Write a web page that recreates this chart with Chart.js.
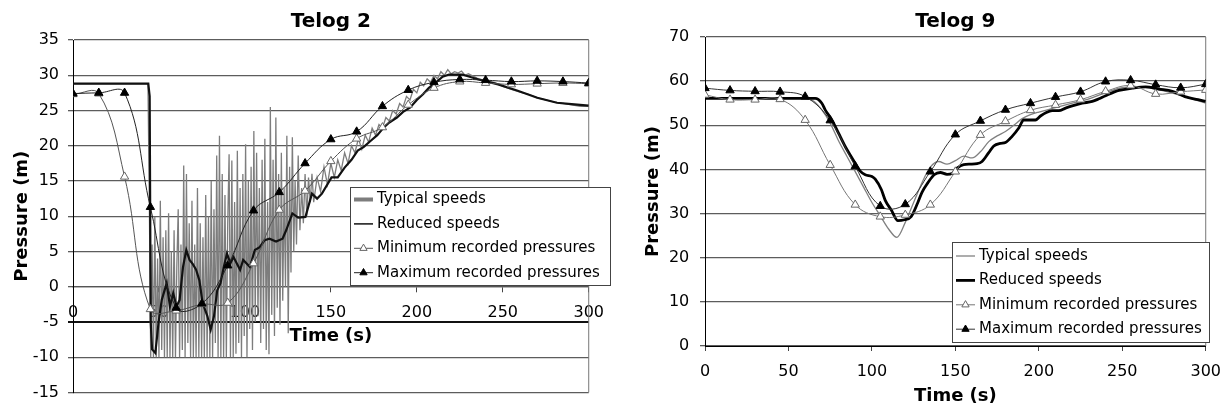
<!DOCTYPE html>
<html>
<head>
<meta charset="utf-8">
<script src="https://cdn.jsdelivr.net/npm/chart.js@4.4.0/dist/chart.umd.min.js"></script>
<style>
  html, body { margin: 0; padding: 0; background: #fff; }
  #wrap { position: relative; width: 1232px; height: 411px; }
  .box { position: absolute; top: 0; width: 616px; height: 411px; }
</style>
</head>
<body>
<div id="wrap">
  <div class="box" style="left:0"><canvas id="telog2"></canvas></div>
  <div class="box" style="left:616px"><canvas id="telog9"></canvas></div>
</div>
<script>
Chart.defaults.font.family = "DejaVu Sans";
Chart.defaults.color = "#000";

/* --------------- Recorded pressures (markers every 15 s) --------------------- */
const markerTimes = [0, 15, 30, 45, 60, 75, 90, 105, 120, 135, 150, 165, 180, 195, 210, 225, 240, 255, 270, 285, 300];

/* --------------- Telog 2 --------------------- */
const t2Min = [27.3, 27.4, 15.6, -3.2, -3.4, -2.5, -2.3, 3.3, 10.9, 13.6, 17.8, 21.0, 22.6, 25.8, 28.2, 29.1, 28.9, 28.7, 28.8, 28.9, 28.8];
const t2Max = [27.4, 27.5, 27.5, 11.3, -3.0, -2.4, 3.0, 10.8, 13.4, 17.5, 20.9, 22.0, 25.6, 27.9, 29.0, 29.4, 29.3, 29.1, 29.2, 29.1, 28.9];

const t2ReducedTimes = [
  0, 43.8, 44.6, 45.2, 46, 47.9, 49.7, 51.6, 54.5, 56.4,
  58.3, 60.2, 62, 64, 65.9, 67.8, 69.7, 71.6, 73.5, 75.4,
  78.2, 80.1, 82, 83.9, 85.8, 87.7, 89.6, 91.5, 93.4, 95.3,
  97.2, 99, 102.9, 105.8, 108.6, 111.5, 114.3, 118.1, 121.9, 124,
  127.6, 131, 135.2, 139, 142, 144.8, 150.4, 154, 158, 162,
  165.6, 169, 173.2, 177, 180.8, 184, 188.4, 192, 196, 200,
  203.6, 207, 211.2, 215, 218.8, 226.4, 235.9, 247.3, 258.7, 270.1,
  281.5, 290, 300];
const t2Reduced = [
  28.8, 28.8, 27, -5, -8.9, -9.4, -5.2, -1.9, 0.5, -2.8,
  -0.9, -2.8, -1.9, 2.8, 5.2, 3.8, 3.2, 2.4, 0.9, -2.3,
  -4.2, -6.1, -4.2, -0.5, 0.5, 2.8, 4.7, 3.3, 4.2, 3.3,
  2.4, 3.8, 2.8, 5.2, 5.6, 6.6, 6.8, 6.4, 6.8, 8,
  10.4, 9.8, 9.9, 13.2, 12.5, 13.2, 15.5, 15.5, 16.9, 18,
  19.3, 19.8, 20.7, 21.5, 22.6, 23.3, 24.0, 24.8, 25.4, 26.5,
  27.3, 28.2, 29.0, 29.8, 30.1, 30.1, 29.4, 28.7, 27.8, 26.8,
  26.1, 25.9, 25.7];

const t2TypicalTimes = [
  0, 43.6, 44.4, 45.2, 46.0, 46.8, 47.6, 48.4, 49.2, 50.0,
  50.8, 51.6, 52.4, 53.2, 54.0, 54.8, 55.6, 56.4, 57.2, 58.0,
  58.8, 59.6, 60.4, 61.2, 62.0, 62.8, 63.6, 64.4, 65.2, 66.0,
  66.8, 67.6, 68.4, 69.2, 70.0, 70.8, 71.6, 72.4, 73.2, 74.0,
  74.8, 75.6, 76.4, 77.2, 78.0, 78.8, 79.6, 80.4, 81.2, 82.0,
  82.8, 83.6, 84.4, 85.2, 86.0, 86.8, 87.6, 88.4, 89.2, 90.0,
  90.8, 91.6, 92.4, 93.2, 94.0, 94.8, 95.6, 96.4, 97.2, 98.0,
  98.8, 99.6, 100.4, 101.2, 102.0, 102.8, 103.6, 104.4, 105.2, 106.0,
  106.8, 107.6, 108.4, 109.2, 110.0, 110.8, 111.6, 112.4, 113.2, 114.0,
  114.8, 115.6, 116.4, 117.2, 118.0, 118.8, 119.6, 120.4, 121.2, 122.0,
  122.8, 123.6, 124.4, 125.2, 126.0, 126.8, 127.6, 128.4, 129.2, 130,
  131, 132, 133, 134, 135, 136, 137, 138, 139, 140,
  142, 144, 146, 148, 150, 152, 154, 156, 158, 160,
  162, 164, 166, 168, 170, 172, 174, 176, 178, 180,
  182, 184, 186, 188, 190, 192, 194, 196, 198, 200,
  202, 204, 206, 208, 210, 212, 214, 216, 218, 220,
  222, 224, 226, 228, 230, 235, 240, 245, 250, 255,
  260, 265, 270, 275, 280, 285, 290, 295, 300];
const t2Typical = [
  28.8, 28.8, 12, -10, 6, -10, 9.9, -10, 4, -10,
  12.2, -9, 7, -10, 8, -10, 10.4, -10, 5, -10,
  8, -10, 3, 11, -10, 6, -9, 17.2, -10, 16,
  -8, 9, -10, 12.2, -10, 6, -10, 14, -10, 9,
  -10, 7, -10, 13, -10, 10, -10, 15, -10, 11,
  -8, 18.6, -10, 21.4, -10, 16, -10, 13, -10, 9,
  18.8, -10, 17.9, -10, 12, -9.5, 19.3, -8, 14, -10,
  16, -7, 20.2, -10, 15, -6, 17, -9, 22.1, -5,
  19, -4.2, 14, -8, 18, -6, 21, -9, 12, -9.6,
  25.5, -4, 18, -7, 24, -3, 16, -5.4, 19, -2,
  14, 0, 21.4, -6.6, 17, 2, 21.2, 5, 15, 6,
  18.6, 8, 14, 9, 16, 10, 15.5, 12, 16, 12,
  15.5, 13.5, 17, 14.5, 17.5, 15.5, 18, 16.5, 19, 17.5,
  20, 19, 21, 19.5, 21.5, 20.5, 22.5, 21.5, 23, 22.5,
  24, 23.5, 25, 24.5, 26, 25.5, 27, 26.5, 28, 27.5,
  29, 28.5, 29.5, 29, 30, 29.5, 30.5, 30, 30.8, 30.2,
  30.5, 30.3, 30.6, 30, 30.2, 29.6, 29.2, 29, 28.4, 28,
  27.6, 27.3, 26.8, 26.5, 26.2, 26, 25.8, 25.6, 25.6];

/* --------------- Telog 9 --------------------- */
const t9Min = [56.9, 55.8, 55.8, 55.9, 51.2, 41.0, 32.0, 29.3, 29.7, 32.0, 39.5, 47.8, 50.9, 53.4, 54.6, 55.8, 57.7, 59.0, 57.1, 57.6, 58.0];
const t9Max = [58.4, 57.9, 57.7, 57.6, 56.5, 51.1, 40.7, 31.7, 32.1, 39.5, 47.9, 51.0, 53.5, 55.0, 56.4, 57.6, 59.9, 60.2, 59.2, 58.5, 59.3];

const t9TypicalTimes = [
  0, 60, 65, 70, 75, 80, 85, 90, 95, 100,
  105, 110, 115, 120, 125, 130, 135, 140, 145, 150,
  155, 160, 165, 170, 175, 180, 185, 190, 195, 200,
  210, 220, 230, 240, 250, 260, 270, 280, 290, 300];
const t9Typical = [
  56.1, 56.1, 55.5, 53.5, 50.5, 46.5, 43, 39.5, 36, 32.5,
  29.5, 26.5, 24.6, 28, 32.5, 37, 40.5, 41.8, 41.2, 42,
  43, 42.6, 44, 46.3, 47.6, 48.6, 50, 51.5, 52.4, 53,
  54, 55, 56, 57.4, 58.5, 58.7, 58.2, 57.3, 56.2, 55.0];

const t9ReducedTimes = [
  0, 66, 70, 72, 76, 80, 84, 90, 93, 96,
  100, 102, 105.7, 108, 111.6, 115.6, 119.5, 123.5, 127.4, 130,
  133.4, 137.3, 141, 145, 148, 151, 155, 159, 163, 166,
  170, 173, 177, 180, 184, 188, 191, 195, 198, 201,
  204.5, 208, 212, 216, 220, 226, 232, 236, 240, 248,
  256, 264, 272, 280, 287.5, 295.4, 300];
const t9Reduced = [
  56.1, 56.1, 55, 53.5, 51.2, 48.2, 45.2, 41.4, 39.6, 38.8,
  38.4, 37.8, 35.4, 33, 30.8, 28.4, 28.6, 29.3, 32.4, 34.8,
  36.9, 38.8, 39.3, 38.9, 39.1, 40.3, 41.1, 41.2, 41.3, 41.8,
  43.8, 45.3, 45.9, 46.1, 47.5, 49.4, 51.2, 51.2, 51.2, 52.1,
  52.9, 53.3, 53.3, 53.9, 54.4, 55.0, 55.4, 56.0, 56.7, 57.9,
  58.4, 58.7, 58.2, 57.7, 56.5, 55.8, 55.4];

const seriesNames = ["Typical speeds", "Reduced speeds", "Minimum recorded pressures", "Maximum recorded pressures"];

const pts = (xs, ys) => xs.map((x, i) => ({ x: x, y: ys[i] }));

/* --------------- Plot frame and boxed legend --------------------- */
const plotFrame = {
  id: "plotFrame",
  beforeDatasetsDraw(chart) {
    const { ctx, chartArea: a } = chart;
    ctx.save();
    ctx.strokeStyle = "#777";
    ctx.lineWidth = 1;
    ctx.beginPath();
    ctx.moveTo(a.right, a.top);
    ctx.lineTo(a.right, a.bottom);
    ctx.stroke();
    ctx.restore();
  },
};

const boxLegend = {
  id: "boxLegend",
  afterDraw(chart, args, opts) {
    const ctx = chart.ctx;
    ctx.save();
    ctx.fillStyle = "#fff";
    ctx.fillRect(opts.left, opts.top, opts.width, opts.height);
    ctx.strokeStyle = "#444";
    ctx.lineWidth = 1;
    ctx.strokeRect(opts.left + 0.5, opts.top + 0.5, opts.width, opts.height);
    ctx.font = "15px 'DejaVu Sans'";
    ctx.textBaseline = "middle";
    chart.data.datasets.forEach((ds, i) => {
      const y = opts.top + opts.firstRow + i * opts.rowGap;
      const x0 = opts.left + 4;
      const x1 = x0 + 19;
      ctx.strokeStyle = ds.borderColor;
      ctx.lineWidth = ds.legendWidth || ds.borderWidth;
      ctx.beginPath();
      ctx.moveTo(x0, y);
      ctx.lineTo(x1, y);
      ctx.stroke();
      if (ds.pointRadius) {
        ctx.fillStyle = ds.pointBackgroundColor;
        ctx.strokeStyle = ds.pointBorderColor;
        ctx.lineWidth = ds.pointBorderWidth;
        Chart.helpers.drawPoint(ctx, { pointStyle: "triangle", radius: 4.2, borderWidth: ds.pointBorderWidth, rotation: 0 }, (x0 + x1) / 2, y);
      }
      ctx.fillStyle = "#000";
      ctx.fillText(ds.label, x1 + 4, y);
    });
    ctx.restore();
  },
};

const tickFont = { size: 16 };
const titleFont = { size: 18, weight: "bold" };

/* --------------- Telog 2 chart --------------------- */
new Chart(document.getElementById("telog2"), {
  type: "line",
  plugins: [plotFrame, boxLegend],
  data: {
    datasets: [
      { label: seriesNames[0], data: pts(t2TypicalTimes, t2Typical), borderColor: "#7d7d7d", borderWidth: 1.3, legendWidth: 4, pointRadius: 0, tension: 0, order: 4 },
      { label: seriesNames[1], data: pts(t2ReducedTimes, t2Reduced), borderColor: "#111", borderWidth: 2.2, legendWidth: 1.5, pointRadius: 0, tension: 0, order: 3 },
      { label: seriesNames[2], data: pts(markerTimes, t2Min), borderColor: "#555", borderWidth: 1, pointStyle: "triangle", pointRadius: 4.8, pointBackgroundColor: "#fff", pointBorderColor: "#666", pointBorderWidth: 1, tension: 0.4, order: 2 },
      { label: seriesNames[3], data: pts(markerTimes, t2Max), borderColor: "#222", borderWidth: 1, pointStyle: "triangle", pointRadius: 4.8, pointBackgroundColor: "#000", pointBorderColor: "#000", pointBorderWidth: 1, tension: 0.4, order: 1 },
    ],
  },
  options: {
    responsive: true,
    maintainAspectRatio: false,
    animation: false,
    layout: { padding: { left: 0, right: 17, top: 0, bottom: 17.7 } },
    plugins: {
      legend: { display: false },
      tooltip: { enabled: false },
      title: { display: true, text: "Telog 2", fullSize: false, color: "#000", font: { size: 20, weight: "bold" }, padding: { top: 10, bottom: 6 } },
      boxLegend: { left: 350, top: 187, width: 260, height: 98, firstRow: 12.5, rowGap: 24.4 },
    },
    scales: {
      x: {
        type: "linear",
        min: 0,
        max: 300,
        position: { y: 0 },
        ticks: { stepSize: 50, font: tickFont, color: "#000", padding: 12, maxRotation: 0 },
        grid: { drawOnChartArea: false, tickLength: 5, color: "#444" },
        border: { color: "#555", width: 1.3 },
        title: { display: true, text: "Time (s)", font: titleFont, color: "#000", padding: { top: -9, bottom: 0 } },
      },
      y: {
        min: -15,
        max: 35,
        ticks: { stepSize: 5, font: tickFont, color: "#000", padding: 9 },
        grid: {
          color: (c) => (c.tick && c.tick.value === -5 ? "#111" : "#5c5c5c"),
          lineWidth: (c) => (c.tick && c.tick.value === -5 ? 2 : 1.3),
          tickLength: 5,
        },
        border: { color: "#000", width: 1 },
        title: { display: true, text: "Pressure (m)", font: titleFont, color: "#000", padding: { top: 12, bottom: 0 } },
        afterFit(scale) { scale.width = 73; },
      },
    },
  },
});

/* --------------- Telog 9 chart --------------------- */
new Chart(document.getElementById("telog9"), {
  type: "line",
  plugins: [plotFrame, boxLegend],
  data: {
    datasets: [
      { label: seriesNames[0], data: pts(t9TypicalTimes, t9Typical), borderColor: "#808080", borderWidth: 1.3, pointRadius: 0, cubicInterpolationMode: "monotone", order: 4 },
      { label: seriesNames[1], data: pts(t9ReducedTimes, t9Reduced), borderColor: "#000", borderWidth: 2.8, pointRadius: 0, cubicInterpolationMode: "monotone", order: 3 },
      { label: seriesNames[2], data: pts(markerTimes, t9Min), borderColor: "#777", borderWidth: 1, pointStyle: "triangle", pointRadius: 4.8, pointBackgroundColor: "#fff", pointBorderColor: "#666", pointBorderWidth: 1, tension: 0.4, order: 2 },
      { label: seriesNames[3], data: pts(markerTimes, t9Max), borderColor: "#333", borderWidth: 1, pointStyle: "triangle", pointRadius: 4.8, pointBackgroundColor: "#000", pointBorderColor: "#000", pointBorderWidth: 1, tension: 0.4, order: 1 },
    ],
  },
  options: {
    responsive: true,
    maintainAspectRatio: false,
    animation: false,
    layout: { padding: { left: 0, right: 21, top: 0, bottom: 0 } },
    plugins: {
      legend: { display: false },
      tooltip: { enabled: false },
      title: { display: true, text: "Telog 9", fullSize: false, color: "#000", font: { size: 20, weight: "bold" }, padding: { top: 10, bottom: 3 } },
      boxLegend: { left: 336, top: 242, width: 257, height: 100, firstRow: 14, rowGap: 24.4 },
    },
    scales: {
      x: {
        type: "linear",
        min: 0,
        max: 300,
        position: "bottom",
        ticks: { stepSize: 50, font: tickFont, color: "#000", padding: 11, maxRotation: 0 },
        grid: { drawOnChartArea: false, tickLength: 5, color: "#444" },
        border: { color: "#000", width: 1 },
        title: { display: true, text: "Time (s)", font: titleFont, color: "#000", padding: { top: -6.3, bottom: 3.5 } },
      },
      y: {
        min: 0,
        max: 70,
        ticks: { stepSize: 10, font: tickFont, color: "#000", padding: 10.7 },
        grid: { color: "#5c5c5c", lineWidth: 1.3, tickLength: 5 },
        border: { color: "#000", width: 1 },
        title: { display: true, text: "Pressure (m)", font: titleFont, color: "#000", padding: { top: 26.7, bottom: 0 } },
        afterFit(scale) { scale.width = 89; },
      },
    },
  },
});
</script>
</body>
</html>
